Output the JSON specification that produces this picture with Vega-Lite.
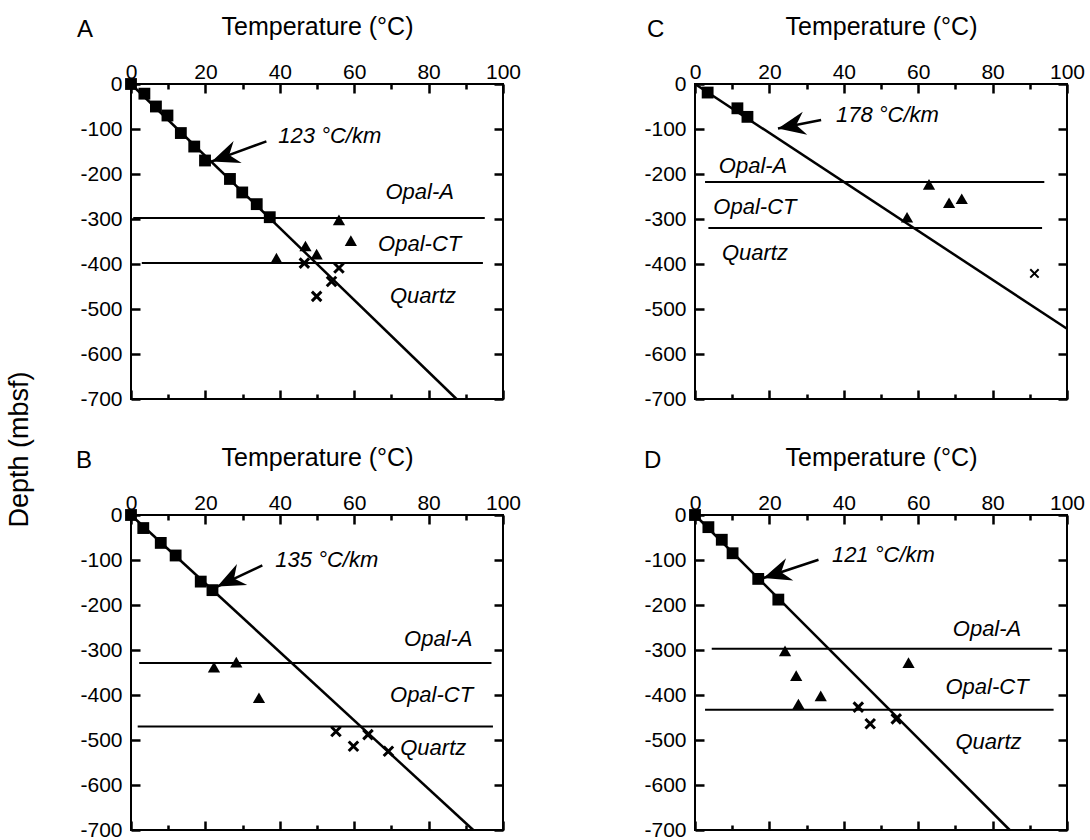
{
  "$schema": "https://vega.github.io/schema/vega-lite/v6.json",
  "padding": {"left": 4, "top": 13, "right": 5, "bottom": 2},
  "background": "white",
  "config": {
    "font": "Liberation Sans",
    "view": {"stroke": "black", "strokeWidth": 2},
    "axis": {"labelColor": "black", "titleColor": "black", "labelFont": "Liberation Sans", "titleFont": "Liberation Sans"},
    "axisX": {"orient": "top", "values": [0, 10, 20, 30, 40, 50, 60, 70, 80, 90, 100], "labelExpr": "datum.value % 20 === 0 ? '' + datum.value : ''", "ticks": false, "domain": false, "labelPadding": 2, "labelFontSize": 21, "labelFlush": false, "labelOverlap": false, "titleFontSize": 25, "titleFontWeight": "normal", "titlePadding": 22, "grid": true, "gridColor": "black", "gridOpacity": 1, "gridWidth": 2.5, "gridDash": {"condition": {"test": "datum.value % 20 === 0", "value": [9, 297, 9]}, "value": [5, 305, 5]}},
    "axisY": {"orient": "left", "values": [0, -50, -100, -150, -200, -250, -300, -350, -400, -450, -500, -550, -600, -650, -700], "labelExpr": "datum.value % 100 === 0 ? '' + datum.value : ''", "ticks": false, "domain": false, "labelPadding": 9, "labelFontSize": 21, "labelFlush": false, "labelOverlap": false, "titleFontSize": 27, "titleFontWeight": "normal", "grid": true, "gridColor": "black", "gridOpacity": 1, "gridWidth": 2.5, "gridDash": {"condition": {"test": "datum.value % 100 === 0", "value": [9, 354, 9]}, "value": [5, 362, 5]}},
    "title": {"font": "Liberation Sans", "fontSize": 24, "fontWeight": "normal", "color": "black"}
  },
  "datasets": {
    "d": [
      {"panel": "A", "kind": "sq", "T": 0, "depth": 0},
      {"panel": "A", "kind": "sq", "T": 3.6, "depth": -21.5},
      {"panel": "A", "kind": "sq", "T": 6.7, "depth": -50},
      {"panel": "A", "kind": "sq", "T": 9.8, "depth": -70},
      {"panel": "A", "kind": "sq", "T": 13.4, "depth": -109},
      {"panel": "A", "kind": "sq", "T": 17.0, "depth": -139},
      {"panel": "A", "kind": "sq", "T": 19.9, "depth": -170},
      {"panel": "A", "kind": "sq", "T": 26.6, "depth": -211},
      {"panel": "A", "kind": "sq", "T": 29.9, "depth": -241},
      {"panel": "A", "kind": "sq", "T": 33.8, "depth": -267},
      {"panel": "A", "kind": "sq", "T": 37.3, "depth": -296},
      {"panel": "A", "kind": "tri", "T": 55.9, "depth": -302},
      {"panel": "A", "kind": "tri", "T": 59.1, "depth": -348},
      {"panel": "A", "kind": "tri", "T": 46.9, "depth": -360},
      {"panel": "A", "kind": "tri", "T": 49.9, "depth": -378},
      {"panel": "A", "kind": "tri", "T": 39.1, "depth": -387},
      {"panel": "A", "kind": "x", "T": 46.6, "depth": -398},
      {"panel": "A", "kind": "x", "T": 55.9, "depth": -409},
      {"panel": "A", "kind": "x", "T": 53.9, "depth": -439},
      {"panel": "A", "kind": "x", "T": 49.9, "depth": -472},
      {"panel": "A", "kind": "bound", "T": 0.6, "T2": 95.1, "depth": -298, "depth2": -298},
      {"panel": "A", "kind": "bound", "T": 2.9, "T2": 94.6, "depth": -398, "depth2": -398},
      {"panel": "A", "kind": "fit", "T": 0, "T2": 87.5, "depth": 0, "depth2": -700},
      {"panel": "A", "kind": "zone", "T": 77.6, "depth": -239, "label": "Opal-A"},
      {"panel": "A", "kind": "zone", "T": 77.6, "depth": -356, "label": "Opal-CT"},
      {"panel": "A", "kind": "zone", "T": 78.5, "depth": -472, "label": "Quartz"},
      {"panel": "A", "kind": "rate", "T": 39.6, "depth": -116, "label": "123 °C/km"},
      {"panel": "A", "kind": "arrow", "T": 36.4, "depth": -127.5, "T2": 21.7, "depth2": -172},

      {"panel": "C", "kind": "sq", "T": 3.4, "depth": -19},
      {"panel": "C", "kind": "sq", "T": 11.4, "depth": -54},
      {"panel": "C", "kind": "sq", "T": 14.1, "depth": -73},
      {"panel": "C", "kind": "tri", "T": 62.9, "depth": -223},
      {"panel": "C", "kind": "tri", "T": 68.3, "depth": -264},
      {"panel": "C", "kind": "tri", "T": 71.7, "depth": -255},
      {"panel": "C", "kind": "tri", "T": 57.0, "depth": -296},
      {"panel": "C", "kind": "x", "T": 91.25, "depth": -421},
      {"panel": "C", "kind": "bound", "T": 2.7, "T2": 93.9, "depth": -218, "depth2": -218},
      {"panel": "C", "kind": "bound", "T": 3.6, "T2": 93.3, "depth": -320, "depth2": -320},
      {"panel": "C", "kind": "fit", "T": 0, "T2": 100, "depth": 0, "depth2": -544},
      {"panel": "C", "kind": "zone", "T": 15.6, "depth": -182, "label": "Opal-A"},
      {"panel": "C", "kind": "zone", "T": 16.1, "depth": -273, "label": "Opal-CT"},
      {"panel": "C", "kind": "zone", "T": 16.1, "depth": -375, "label": "Quartz"},
      {"panel": "C", "kind": "rate", "T": 37.9, "depth": -69, "label": "178 °C/km"},
      {"panel": "C", "kind": "arrow", "T": 33.9, "depth": -80, "T2": 22.3, "depth2": -99},

      {"panel": "B", "kind": "sq", "T": 0, "depth": 0},
      {"panel": "B", "kind": "sq", "T": 3.3, "depth": -29},
      {"panel": "B", "kind": "sq", "T": 8.0, "depth": -62},
      {"panel": "B", "kind": "sq", "T": 12.0, "depth": -90},
      {"panel": "B", "kind": "sq", "T": 18.75, "depth": -148},
      {"panel": "B", "kind": "sq", "T": 21.9, "depth": -167},
      {"panel": "B", "kind": "tri", "T": 22.3, "depth": -338},
      {"panel": "B", "kind": "tri", "T": 28.3, "depth": -327},
      {"panel": "B", "kind": "tri", "T": 34.4, "depth": -406},
      {"panel": "B", "kind": "x", "T": 55.1, "depth": -481},
      {"panel": "B", "kind": "x", "T": 59.8, "depth": -514},
      {"panel": "B", "kind": "x", "T": 63.7, "depth": -488},
      {"panel": "B", "kind": "x", "T": 69.2, "depth": -525},
      {"panel": "B", "kind": "bound", "T": 2.2, "T2": 96.9, "depth": -329, "depth2": -329},
      {"panel": "B", "kind": "bound", "T": 1.8, "T2": 97.3, "depth": -470, "depth2": -470},
      {"panel": "B", "kind": "fit", "T": 0, "T2": 92, "depth": 0, "depth2": -700},
      {"panel": "B", "kind": "zone", "T": 82.6, "depth": -276, "label": "Opal-A"},
      {"panel": "B", "kind": "zone", "T": 80.8, "depth": -400, "label": "Opal-CT"},
      {"panel": "B", "kind": "zone", "T": 81.25, "depth": -517, "label": "Quartz"},
      {"panel": "B", "kind": "rate", "T": 38.8, "depth": -101, "label": "135 °C/km"},
      {"panel": "B", "kind": "arrow", "T": 35.3, "depth": -112, "T2": 23.2, "depth2": -159},

      {"panel": "D", "kind": "sq", "T": 0, "depth": 0},
      {"panel": "D", "kind": "sq", "T": 3.6, "depth": -27},
      {"panel": "D", "kind": "sq", "T": 7.2, "depth": -55},
      {"panel": "D", "kind": "sq", "T": 10.1, "depth": -85},
      {"panel": "D", "kind": "sq", "T": 17.0, "depth": -142},
      {"panel": "D", "kind": "sq", "T": 22.4, "depth": -188},
      {"panel": "D", "kind": "tri", "T": 24.2, "depth": -302},
      {"panel": "D", "kind": "tri", "T": 27.2, "depth": -357},
      {"panel": "D", "kind": "tri", "T": 33.8, "depth": -402},
      {"panel": "D", "kind": "tri", "T": 27.8, "depth": -420},
      {"panel": "D", "kind": "tri", "T": 57.4, "depth": -328},
      {"panel": "D", "kind": "x", "T": 43.9, "depth": -427},
      {"panel": "D", "kind": "x", "T": 47.1, "depth": -464},
      {"panel": "D", "kind": "x", "T": 54.1, "depth": -453},
      {"panel": "D", "kind": "bound", "T": 4.5, "T2": 96.0, "depth": -297, "depth2": -297},
      {"panel": "D", "kind": "bound", "T": 2.7, "T2": 96.4, "depth": -433, "depth2": -433},
      {"panel": "D", "kind": "fit", "T": 0, "T2": 84.6, "depth": 0, "depth2": -700},
      {"panel": "D", "kind": "zone", "T": 78.5, "depth": -254, "label": "Opal-A"},
      {"panel": "D", "kind": "zone", "T": 78.5, "depth": -383, "label": "Opal-CT"},
      {"panel": "D", "kind": "zone", "T": 78.9, "depth": -505, "label": "Quartz"},
      {"panel": "D", "kind": "rate", "T": 36.8, "depth": -88, "label": "121 °C/km"},
      {"panel": "D", "kind": "arrow", "T": 33.2, "depth": -99.5, "T2": 18.4, "depth2": -140}
    ]
  },
  "columns": 2,
  "bounds": "flush",
  "spacing": {"row": 116, "column": 192},
  "concat": [
    {
      "width": 372, "height": 315,
      "title": {"text": "A", "anchor": "start", "frame": "group", "dx": -54, "offset": -28},
      "data": {"name": "d"},
      "transform": [{"filter": "datum.panel === 'A'"}],
      "layer": [
        {"transform": [{"filter": "datum.kind === 'bound'"}], "mark": {"type": "rule", "color": "black", "strokeWidth": 2},
         "encoding": {
           "x": {"field": "T", "type": "quantitative", "scale": {"domain": [0, 100], "nice": false, "zero": false}, "axis": {"title": "Temperature (°C)"}},
           "x2": {"field": "T2"},
           "y": {"field": "depth", "type": "quantitative", "scale": {"domain": [-700, 0], "nice": false, "zero": false}, "axis": {"title": "Depth (mbsf)", "titleX": -112, "titleY": 365, "titleAlign": "center", "titleBaseline": "middle"}},
           "y2": {"field": "depth2"}
         }},
        {"transform": [{"filter": "datum.kind === 'fit'"}], "mark": {"type": "rule", "color": "black", "strokeWidth": 2.5},
         "encoding": {"x": {"field": "T", "type": "quantitative"}, "x2": {"field": "T2"}, "y": {"field": "depth", "type": "quantitative"}, "y2": {"field": "depth2"}}},
        {"transform": [{"filter": "datum.kind === 'sq'"}], "mark": {"type": "point", "shape": "square", "filled": true, "color": "black", "opacity": 1, "size": 140},
         "encoding": {"x": {"field": "T", "type": "quantitative"}, "y": {"field": "depth", "type": "quantitative"}}},
        {"transform": [{"filter": "datum.kind === 'tri'"}], "mark": {"type": "point", "shape": "triangle-up", "filled": true, "color": "black", "opacity": 1, "size": 150},
         "encoding": {"x": {"field": "T", "type": "quantitative"}, "y": {"field": "depth", "type": "quantitative"}}},
        {"transform": [{"filter": "datum.kind === 'x'"}], "mark": {"type": "point", "shape": "M-1,-1L1,1M-1,1L1,-1", "filled": false, "color": "black", "opacity": 1, "strokeWidth": 3, "size": 90},
         "encoding": {"x": {"field": "T", "type": "quantitative"}, "y": {"field": "depth", "type": "quantitative"}}},
        {"transform": [{"filter": "datum.kind === 'zone'"}], "mark": {"type": "text", "fontSize": 22, "fontStyle": "italic", "align": "center", "baseline": "middle", "color": "black"},
         "encoding": {"x": {"field": "T", "type": "quantitative"}, "y": {"field": "depth", "type": "quantitative"}, "text": {"field": "label"}}},
        {"transform": [{"filter": "datum.kind === 'rate'"}], "mark": {"type": "text", "fontSize": 22, "fontStyle": "italic", "align": "left", "baseline": "middle", "color": "black"},
         "encoding": {"x": {"field": "T", "type": "quantitative"}, "y": {"field": "depth", "type": "quantitative"}, "text": {"field": "label"}}},
        {"transform": [{"filter": "datum.kind === 'arrow'"}], "mark": {"type": "rule", "color": "black", "strokeWidth": 2.5},
         "encoding": {"x": {"field": "T", "type": "quantitative"}, "x2": {"field": "T2"}, "y": {"field": "depth", "type": "quantitative"}, "y2": {"field": "depth2"}}},
        {"transform": [{"filter": "datum.kind === 'arrow'"}], "mark": {"type": "point", "shape": "M0,0L-2,-0.85L-1.35,0L-2,0.85Z", "filled": true, "color": "black", "opacity": 1, "size": 760, "angle": 160},
         "encoding": {"x": {"field": "T2", "type": "quantitative"}, "y": {"field": "depth2", "type": "quantitative"}}}
      ]
    },
    {
      "width": 372, "height": 315,
      "title": {"text": "C", "anchor": "start", "frame": "group", "dx": -48, "offset": -28},
      "data": {"name": "d"},
      "transform": [{"filter": "datum.panel === 'C'"}],
      "layer": [
        {"transform": [{"filter": "datum.kind === 'bound'"}], "mark": {"type": "rule", "color": "black", "strokeWidth": 2},
         "encoding": {
           "x": {"field": "T", "type": "quantitative", "scale": {"domain": [0, 100], "nice": false, "zero": false}, "axis": {"title": "Temperature (°C)"}},
           "x2": {"field": "T2"},
           "y": {"field": "depth", "type": "quantitative", "scale": {"domain": [-700, 0], "nice": false, "zero": false}, "axis": {"title": null}},
           "y2": {"field": "depth2"}
         }},
        {"transform": [{"filter": "datum.kind === 'fit'"}], "mark": {"type": "rule", "color": "black", "strokeWidth": 2.5},
         "encoding": {"x": {"field": "T", "type": "quantitative"}, "x2": {"field": "T2"}, "y": {"field": "depth", "type": "quantitative"}, "y2": {"field": "depth2"}}},
        {"transform": [{"filter": "datum.kind === 'sq'"}], "mark": {"type": "point", "shape": "square", "filled": true, "color": "black", "opacity": 1, "size": 140},
         "encoding": {"x": {"field": "T", "type": "quantitative"}, "y": {"field": "depth", "type": "quantitative"}}},
        {"transform": [{"filter": "datum.kind === 'tri'"}], "mark": {"type": "point", "shape": "triangle-up", "filled": true, "color": "black", "opacity": 1, "size": 150},
         "encoding": {"x": {"field": "T", "type": "quantitative"}, "y": {"field": "depth", "type": "quantitative"}}},
        {"transform": [{"filter": "datum.kind === 'x'"}], "mark": {"type": "point", "shape": "M-1,-1L1,1M-1,1L1,-1", "filled": false, "color": "black", "opacity": 1, "strokeWidth": 2, "size": 70},
         "encoding": {"x": {"field": "T", "type": "quantitative"}, "y": {"field": "depth", "type": "quantitative"}}},
        {"transform": [{"filter": "datum.kind === 'zone'"}], "mark": {"type": "text", "fontSize": 22, "fontStyle": "italic", "align": "center", "baseline": "middle", "color": "black"},
         "encoding": {"x": {"field": "T", "type": "quantitative"}, "y": {"field": "depth", "type": "quantitative"}, "text": {"field": "label"}}},
        {"transform": [{"filter": "datum.kind === 'rate'"}], "mark": {"type": "text", "fontSize": 22, "fontStyle": "italic", "align": "left", "baseline": "middle", "color": "black"},
         "encoding": {"x": {"field": "T", "type": "quantitative"}, "y": {"field": "depth", "type": "quantitative"}, "text": {"field": "label"}}},
        {"transform": [{"filter": "datum.kind === 'arrow'"}], "mark": {"type": "rule", "color": "black", "strokeWidth": 2.5},
         "encoding": {"x": {"field": "T", "type": "quantitative"}, "x2": {"field": "T2"}, "y": {"field": "depth", "type": "quantitative"}, "y2": {"field": "depth2"}}},
        {"transform": [{"filter": "datum.kind === 'arrow'"}], "mark": {"type": "point", "shape": "M0,0L-2,-0.85L-1.35,0L-2,0.85Z", "filled": true, "color": "black", "opacity": 1, "size": 760, "angle": 169},
         "encoding": {"x": {"field": "T2", "type": "quantitative"}, "y": {"field": "depth2", "type": "quantitative"}}}
      ]
    },
    {
      "width": 372, "height": 315,
      "title": {"text": "B", "anchor": "start", "frame": "group", "dx": -55, "offset": -28},
      "data": {"name": "d"},
      "transform": [{"filter": "datum.panel === 'B'"}],
      "layer": [
        {"transform": [{"filter": "datum.kind === 'bound'"}], "mark": {"type": "rule", "color": "black", "strokeWidth": 2},
         "encoding": {
           "x": {"field": "T", "type": "quantitative", "scale": {"domain": [0, 100], "nice": false, "zero": false}, "axis": {"title": "Temperature (°C)"}},
           "x2": {"field": "T2"},
           "y": {"field": "depth", "type": "quantitative", "scale": {"domain": [-700, 0], "nice": false, "zero": false}, "axis": {"title": null}},
           "y2": {"field": "depth2"}
         }},
        {"transform": [{"filter": "datum.kind === 'fit'"}], "mark": {"type": "rule", "color": "black", "strokeWidth": 2.5},
         "encoding": {"x": {"field": "T", "type": "quantitative"}, "x2": {"field": "T2"}, "y": {"field": "depth", "type": "quantitative"}, "y2": {"field": "depth2"}}},
        {"transform": [{"filter": "datum.kind === 'sq'"}], "mark": {"type": "point", "shape": "square", "filled": true, "color": "black", "opacity": 1, "size": 140},
         "encoding": {"x": {"field": "T", "type": "quantitative"}, "y": {"field": "depth", "type": "quantitative"}}},
        {"transform": [{"filter": "datum.kind === 'tri'"}], "mark": {"type": "point", "shape": "triangle-up", "filled": true, "color": "black", "opacity": 1, "size": 150},
         "encoding": {"x": {"field": "T", "type": "quantitative"}, "y": {"field": "depth", "type": "quantitative"}}},
        {"transform": [{"filter": "datum.kind === 'x'"}], "mark": {"type": "point", "shape": "M-1,-1L1,1M-1,1L1,-1", "filled": false, "color": "black", "opacity": 1, "strokeWidth": 3, "size": 90},
         "encoding": {"x": {"field": "T", "type": "quantitative"}, "y": {"field": "depth", "type": "quantitative"}}},
        {"transform": [{"filter": "datum.kind === 'zone'"}], "mark": {"type": "text", "fontSize": 22, "fontStyle": "italic", "align": "center", "baseline": "middle", "color": "black"},
         "encoding": {"x": {"field": "T", "type": "quantitative"}, "y": {"field": "depth", "type": "quantitative"}, "text": {"field": "label"}}},
        {"transform": [{"filter": "datum.kind === 'rate'"}], "mark": {"type": "text", "fontSize": 22, "fontStyle": "italic", "align": "left", "baseline": "middle", "color": "black"},
         "encoding": {"x": {"field": "T", "type": "quantitative"}, "y": {"field": "depth", "type": "quantitative"}, "text": {"field": "label"}}},
        {"transform": [{"filter": "datum.kind === 'arrow'"}], "mark": {"type": "rule", "color": "black", "strokeWidth": 2.5},
         "encoding": {"x": {"field": "T", "type": "quantitative"}, "x2": {"field": "T2"}, "y": {"field": "depth", "type": "quantitative"}, "y2": {"field": "depth2"}}},
        {"transform": [{"filter": "datum.kind === 'arrow'"}], "mark": {"type": "point", "shape": "M0,0L-2,-0.85L-1.35,0L-2,0.85Z", "filled": true, "color": "black", "opacity": 1, "size": 760, "angle": 154},
         "encoding": {"x": {"field": "T2", "type": "quantitative"}, "y": {"field": "depth2", "type": "quantitative"}}}
      ]
    },
    {
      "width": 372, "height": 315,
      "title": {"text": "D", "anchor": "start", "frame": "group", "dx": -51, "offset": -28},
      "data": {"name": "d"},
      "transform": [{"filter": "datum.panel === 'D'"}],
      "layer": [
        {"transform": [{"filter": "datum.kind === 'bound'"}], "mark": {"type": "rule", "color": "black", "strokeWidth": 2},
         "encoding": {
           "x": {"field": "T", "type": "quantitative", "scale": {"domain": [0, 100], "nice": false, "zero": false}, "axis": {"title": "Temperature (°C)"}},
           "x2": {"field": "T2"},
           "y": {"field": "depth", "type": "quantitative", "scale": {"domain": [-700, 0], "nice": false, "zero": false}, "axis": {"title": null}},
           "y2": {"field": "depth2"}
         }},
        {"transform": [{"filter": "datum.kind === 'fit'"}], "mark": {"type": "rule", "color": "black", "strokeWidth": 2.5},
         "encoding": {"x": {"field": "T", "type": "quantitative"}, "x2": {"field": "T2"}, "y": {"field": "depth", "type": "quantitative"}, "y2": {"field": "depth2"}}},
        {"transform": [{"filter": "datum.kind === 'sq'"}], "mark": {"type": "point", "shape": "square", "filled": true, "color": "black", "opacity": 1, "size": 140},
         "encoding": {"x": {"field": "T", "type": "quantitative"}, "y": {"field": "depth", "type": "quantitative"}}},
        {"transform": [{"filter": "datum.kind === 'tri'"}], "mark": {"type": "point", "shape": "triangle-up", "filled": true, "color": "black", "opacity": 1, "size": 150},
         "encoding": {"x": {"field": "T", "type": "quantitative"}, "y": {"field": "depth", "type": "quantitative"}}},
        {"transform": [{"filter": "datum.kind === 'x'"}], "mark": {"type": "point", "shape": "M-1,-1L1,1M-1,1L1,-1", "filled": false, "color": "black", "opacity": 1, "strokeWidth": 3, "size": 90},
         "encoding": {"x": {"field": "T", "type": "quantitative"}, "y": {"field": "depth", "type": "quantitative"}}},
        {"transform": [{"filter": "datum.kind === 'zone'"}], "mark": {"type": "text", "fontSize": 22, "fontStyle": "italic", "align": "center", "baseline": "middle", "color": "black"},
         "encoding": {"x": {"field": "T", "type": "quantitative"}, "y": {"field": "depth", "type": "quantitative"}, "text": {"field": "label"}}},
        {"transform": [{"filter": "datum.kind === 'rate'"}], "mark": {"type": "text", "fontSize": 22, "fontStyle": "italic", "align": "left", "baseline": "middle", "color": "black"},
         "encoding": {"x": {"field": "T", "type": "quantitative"}, "y": {"field": "depth", "type": "quantitative"}, "text": {"field": "label"}}},
        {"transform": [{"filter": "datum.kind === 'arrow'"}], "mark": {"type": "rule", "color": "black", "strokeWidth": 2.5},
         "encoding": {"x": {"field": "T", "type": "quantitative"}, "x2": {"field": "T2"}, "y": {"field": "depth", "type": "quantitative"}, "y2": {"field": "depth2"}}},
        {"transform": [{"filter": "datum.kind === 'arrow'"}], "mark": {"type": "point", "shape": "M0,0L-2,-0.85L-1.35,0L-2,0.85Z", "filled": true, "color": "black", "opacity": 1, "size": 760, "angle": 162},
         "encoding": {"x": {"field": "T2", "type": "quantitative"}, "y": {"field": "depth2", "type": "quantitative"}}}
      ]
    }
  ]
}
